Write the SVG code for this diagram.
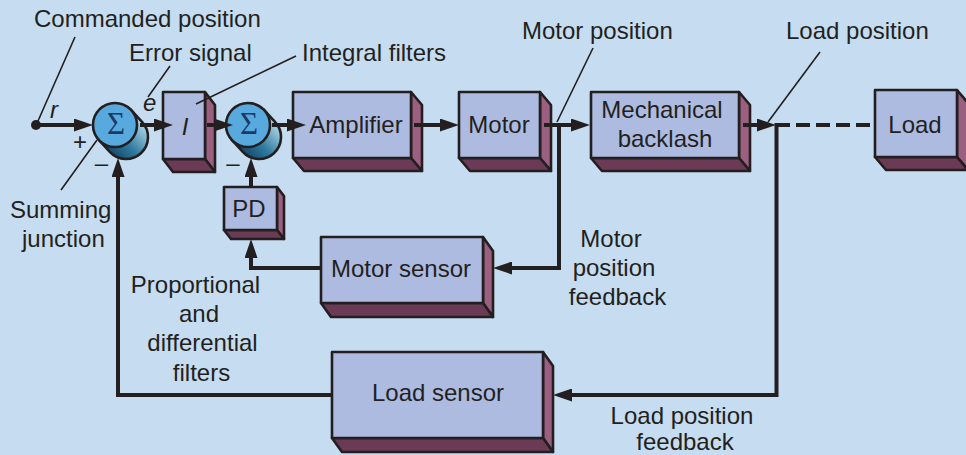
<svg xmlns="http://www.w3.org/2000/svg" width="966" height="455" viewBox="0 0 966 455">
<style>
text{font-family:"Liberation Sans",Arial,sans-serif;font-size:24px;fill:#231f20}
.m{text-anchor:middle}
.it{font-style:italic}
.front{fill:#adbbe0;stroke:#231f20;stroke-width:2.6;stroke-linejoin:round}
.side{fill:#9b5f80;stroke:#231f20;stroke-width:2.6;stroke-linejoin:round}
.bot{fill:#6b3b55;stroke:#231f20;stroke-width:2.6;stroke-linejoin:round}
.cyl{fill:url(#cylg);stroke:#231f20;stroke-width:2.6}
.circ{fill:#58aade;stroke:#231f20;stroke-width:2.6}
.sig{font-family:"Liberation Serif","Times New Roman",serif;font-size:31px;fill:#1b3a66;text-anchor:middle}
.wire{fill:none;stroke:#231f20;stroke-width:4;stroke-linejoin:miter}
.arr{marker-end:url(#ah)}
.ptr{fill:none;stroke:#231f20;stroke-width:1.6}
</style>
<defs>
<linearGradient id="cylg" x1="0.2" y1="1" x2="0.95" y2="0.25">
<stop offset="0" stop-color="#0d3a5a"/>
<stop offset="0.45" stop-color="#2f7aa0"/>
<stop offset="1" stop-color="#b9e0ef"/>
</linearGradient>
<marker id="ah" markerUnits="userSpaceOnUse" markerWidth="19" markerHeight="13" viewBox="0 0 19 13" refX="11" refY="6.5" orient="auto">
<path d="M0,0 L19,6.5 L0,13 Z" fill="#231f20"/>
</marker>
</defs>
<rect width="966" height="455" fill="#c6dcf0"/>

<g id="sum1">
<path class="cyl" d="M98.8,139.9 L109.8,151.9 A22,22 0 0 0 142.2,122.1 L131.2,110.1 Z"/>
<circle class="circ" cx="115" cy="125" r="22"/>
<text class="sig" x="116" y="134">Σ</text>
</g>
<g id="integral">
<polygon class="side" points="205,92 215,105 215,172 205,159"/>
<polygon class="bot" points="163,159 205,159 215,172 173,172"/>
<rect class="front" x="163" y="92" width="42" height="67"/>
<text class="m it" x="185" y="135">I</text>
</g>
<g id="sum2">
<path class="cyl" d="M231.8,139.9 L242.8,151.9 A22,22 0 0 0 275.2,122.1 L264.2,110.1 Z"/>
<circle class="circ" cx="248" cy="125" r="22"/>
<text class="sig" x="249" y="134">Σ</text>
</g>
<g id="amplifier">
<polygon class="side" points="411,92 422,105 422,171 411,158"/>
<polygon class="bot" points="293,158 411,158 422,171 304,171"/>
<rect class="front" x="293" y="92" width="118" height="66"/>
<text class="m" x="356" y="133">Amplifier</text>
</g>
<g id="motor">
<polygon class="side" points="540,92 551,105 551,171 540,158"/>
<polygon class="bot" points="459,158 540,158 551,171 470,171"/>
<rect class="front" x="459" y="92" width="81" height="66"/>
<text class="m" x="499" y="133">Motor</text>
</g>
<g id="backlash">
<polygon class="side" points="739,92 750,105 750,171 739,158"/>
<polygon class="bot" points="591,158 739,158 750,171 602,171"/>
<rect class="front" x="591" y="92" width="148" height="66"/>
<text class="m" x="662" y="118">Mechanical</text>
<text class="m" x="665" y="147">backlash</text>
</g>
<g id="load">
<polygon class="side" points="957,90 968,103 968,170 957,157"/>
<polygon class="bot" points="875,157 957,157 968,170 886,170"/>
<rect class="front" x="875" y="90" width="82" height="67"/>
<text class="m" x="915" y="133">Load</text>
</g>
<g id="pd">
<polygon class="side" points="277,187 284,196 284,239 277,230"/>
<polygon class="bot" points="224,230 277,230 284,239 231,239"/>
<rect class="front" x="224" y="187" width="53" height="43"/>
<text class="m" x="249" y="217">PD</text>
</g>
<g id="motor-sensor">
<polygon class="side" points="483,237 493,251 493,317 483,303"/>
<polygon class="bot" points="321,303 483,303 493,317 331,317"/>
<rect class="front" x="321" y="237" width="162" height="66"/>
<text class="m" x="401" y="277">Motor sensor</text>
</g>
<g id="load-sensor">
<polygon class="side" points="543,352 553,366 553,452 543,438"/>
<polygon class="bot" points="332,438 543,438 553,452 342,452"/>
<rect class="front" x="332" y="352" width="211" height="86"/>
<text class="m" x="438" y="401">Load sensor</text>
</g>

<g id="connectors">
<circle cx="36" cy="125" r="5" fill="#231f20"/>
<path class="wire arr" d="M36,125 H85"/>
<path class="wire arr" d="M140,125 H165"/>
<path class="wire arr" d="M207,125 H225"/>
<path class="wire arr" d="M272,125 H298"/>
<path class="wire arr" d="M414,125 H451"/>
<path class="wire arr" d="M544,125 H582"/>
<path class="wire arr" d="M743,125 H768"/>
<path class="wire" d="M776,125 H870" stroke-dasharray="14 6"/>
<path class="wire arr" d="M559,123 V268 H501"/>
<path class="wire arr" d="M321,268 H251 V247"/>
<path class="wire arr" d="M251,187 V166"/>
<path class="wire arr" d="M776.5,123 V395 H561"/>
<path class="wire arr" d="M332,395 H118 V166"/>
</g>

<g id="pointers">
<path class="ptr" d="M75,37 L38,121"/>
<path class="ptr" d="M170,66 L148,97"/>
<path class="ptr" d="M296,56 L196,104"/>
<path class="ptr" d="M61,190 L97,140"/>
<path class="ptr" d="M593,48 L557,122"/>
<path class="ptr" d="M820,52 L768,122"/>
</g>

<g id="labels">
<text x="34" y="27">Commanded position</text>
<text x="129" y="61">Error signal</text>
<text x="302" y="61">Integral filters</text>
<text x="522" y="39">Motor position</text>
<text x="786" y="39">Load position</text>
<text class="it" x="50" y="118">r</text>
<text class="it" x="143" y="111">e</text>
<text class="m" x="80" y="150">+</text>
<text class="m" x="101.5" y="170.5">–</text>
<text class="m" x="233" y="170.5">–</text>
<text x="10" y="218">Summing</text>
<text x="22" y="247">junction</text>
<text class="m" x="195.5" y="293">Proportional</text>
<text class="m" x="199" y="322">and</text>
<text class="m" x="202.5" y="351">differential</text>
<text class="m" x="201.5" y="381">filters</text>
<text class="m" x="611" y="247">Motor</text>
<text class="m" x="614" y="276">position</text>
<text class="m" x="617.5" y="305">feedback</text>
<text class="m" x="682" y="424">Load position</text>
<text class="m" x="685" y="450">feedback</text>
</g>
</svg>
